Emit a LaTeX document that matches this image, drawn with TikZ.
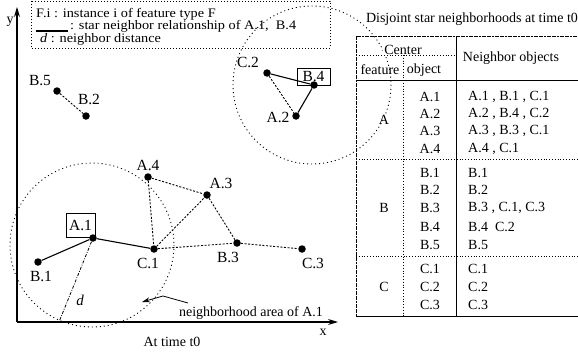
\documentclass[tikz,border=0pt]{standalone}
\usepackage{fontspec}
\setmainfont{Liberation Serif}
\usetikzlibrary{arrows.meta}
\begin{document}
\begin{tikzpicture}[x=1pt,y=-1pt,
  dot/.style={circle,fill=black,inner sep=0pt,minimum size=7.5pt},
  lbl/.style={inner sep=0pt,font=\fontsize{15.5}{17}\selectfont},
  boxlbl/.style={draw,line width=0.8pt,inner sep=0pt,font=\fontsize{15.5}{17}\selectfont},
  txt/.style={inner sep=0pt,font=\fontsize{14}{16}\selectfont},
  legtxt/.style={inner sep=0pt,font=\fontsize{13}{14}\selectfont},
  starln/.style={line width=1.1pt},
  nbr/.style={line width=0.9pt,dash pattern=on 2pt off 1.6pt},
  area/.style={line width=0.9pt,dash pattern=on 1pt off 3pt},
  legbox/.style={line width=0.8pt,dash pattern=on 1pt off 2pt},
  axis/.style={line width=1.1pt,-{Stealth[length=10pt,width=6pt]}},
  tbl/.style={line width=0.8pt},
  tbldot/.style={line width=0.8pt,dash pattern=on 1pt off 1.8pt},
  dline/.style={line width=0.8pt,dash pattern=on 3pt off 1.5pt on 0.8pt off 1.5pt}
]
\useasboundingbox (0,0) rectangle (578,356);

% legend
\draw[legbox] (31,1) rectangle (330,48);
\node[legtxt,anchor=west] (lg1) at (36,14) {\scalebox{1.1}[1]{F.i : instance i of feature type F}};
\coordinate (lgA) at (36,31);
\coordinate (lgB) at (68,31);
\draw[starln] (lgA) -- (lgB);
\node[legtxt,anchor=west] (lg2) at (70,26.5) {\scalebox{1.1}[1]{: star neighbor relationship of A.1,\ \ B.4}};
\node[legtxt,anchor=west] (lg3) at (40,39) {\scalebox{1.1}[1]{\textit{d} : neighbor distance}};

% axes
\coordinate (O) at (17,322);
\coordinate (ytip) at (17,7);
\coordinate (xtip) at (338,322);
\draw[axis] (O) -- (ytip);
\draw[axis] (O) -- (xtip);
\node[txt] (ylab) at (10,22) {y};
\node[txt] (xlab) at (323,332) {x};
\node[txt] (time) at (172,342) {At time t0};

% neighborhood circles
\draw[area] (92,245) circle (82);
\draw[area] (312,85) circle (79);

% points
\node[dot] (b5) at (57,91) {};
\node[dot] (b2) at (86,116) {};
\node[dot] (c2) at (267,73) {};
\node[dot] (b4) at (314,85) {};
\node[dot] (a2) at (296,116) {};
\node[dot] (a4) at (148,177) {};
\node[dot] (a3) at (207,195) {};
\node[dot] (a1) at (93,238) {};
\node[dot] (c1) at (154,249) {};
\node[dot] (b3) at (237,243) {};
\node[dot] (c3) at (302,249) {};
\node[dot] (b1) at (38,262) {};

% labels
\node[lbl] (b5l) at (40,81) {B.5};
\node[lbl] (b2l) at (89,99) {B.2};
\node[lbl] (c2l) at (248,62) {C.2};
\node[boxlbl,minimum width=33pt,minimum height=17pt] (b4l) at (313.5,77) {B.4};
\node[lbl] (a2l) at (278,117) {A.2};
\node[lbl] (a4l) at (148,165) {A.4};
\node[lbl] (a3l) at (221,183) {A.3};
\node[boxlbl,minimum width=29pt,minimum height=24pt] (a1l) at (80.5,225.5) {A.1};
\node[lbl] (c1l) at (148,263) {C.1};
\node[lbl] (b3l) at (228,257) {B.3};
\node[lbl] (c3l) at (313,263) {C.3};
\node[lbl] (b1l) at (41,276) {B.1};

% star relations
\draw[starln] (a1) -- (b1);
\draw[starln] (a1) -- (c1);
\draw[starln] (b4) -- (c2);
\draw[starln] (b4) -- (a2);

% other neighbor relations
\draw[nbr] (b5) -- (b2);
\draw[nbr] (c2) -- (a2);
\draw[nbr] (a4) -- (a3);
\draw[nbr] (a4) -- (c1);
\draw[nbr] (c1) -- (a3);
\draw[nbr] (a3) -- (b3);
\draw[nbr] (c1) -- (b3);
\draw[nbr] (b3) -- (c3);

% neighbor distance
\coordinate (dend) at (59,322);
\draw[dline] (a1) -- (dend);
\node[lbl,font=\fontsize{15}{17}\selectfont\itshape] (dl) at (80,300) {d};

% neighborhood area annotation
\node[txt] (areal) at (251,313) {neighborhood area of A.1};
\coordinate (arA) at (188,303);
\coordinate (arB) at (163,296);
\coordinate (arC) at (142,302);
\draw[line width=0.8pt,-{Stealth[length=8pt,width=5pt]}] (arA) -- (arB) -- (arC);

% table
\node[txt] (ttl) at (472,19) {Disjoint star neighborhoods at time t0};
\draw[tbl,dash pattern=on 2pt off 0.6pt] (356,316) -- (356,36) -- (578,36);
\draw[tbl] (356,80) -- (578,80);
\draw[tbl] (356,316) -- (578,316);
\draw[tbl] (456,36) -- (456,316);
\draw[tbldot] (356,55) -- (456,55);
\draw[tbldot] (403,55) -- (403,316);
\draw[tbldot] (356,159) -- (578,159);
\draw[tbldot] (356,256) -- (578,256);
\node[txt,fill=white,inner xsep=1pt,inner ysep=0.5pt] (hc) at (403,50) {Center};
\node[txt] (hf) at (380,70) {feature};
\node[txt] (ho) at (424,70) {object};
\node[txt] (hn) at (511,58) {Neighbor objects};

\node[txt] (fa) at (384,120) {A};
\node[txt] (fb) at (384,208) {B};
\node[txt] (fc) at (384,287) {C};

\node[txt] (oa1) at (430,97) {A.1};
\node[txt] (oa2) at (430,114) {A.2};
\node[txt] (oa3) at (430,131) {A.3};
\node[txt] (oa4) at (430,149) {A.4};
\node[txt] (ob1) at (430,173) {B.1};
\node[txt] (ob2) at (430,190) {B.2};
\node[txt] (ob3) at (430,208) {B.3};
\node[txt] (ob4) at (430,227) {B.4};
\node[txt] (ob5) at (430,245) {B.5};
\node[txt] (oc1) at (430,269) {C.1};
\node[txt] (oc2) at (430,287) {C.2};
\node[txt] (oc3) at (430,305) {C.3};

\node[txt,anchor=west] (na1) at (468,97) {A.1 , B.1 , C.1};
\node[txt,anchor=west] (na2) at (468,114) {A.2 , B.4 , C.2};
\node[txt,anchor=west] (na3) at (468,131) {A.3 , B.3 , C.1};
\node[txt,anchor=west] (na4) at (468,149) {A.4 , C.1};
\node[txt,anchor=west] (nb1) at (468,173) {B.1};
\node[txt,anchor=west] (nb2) at (468,190) {B.2};
\node[txt,anchor=west] (nb3) at (468,208) {B.3 , C.1, C.3};
\node[txt,anchor=west] (nb4) at (468,227) {B.4\ \ C.2};
\node[txt,anchor=west] (nb5) at (468,245) {B.5};
\node[txt,anchor=west] (nc1) at (468,269) {C.1};
\node[txt,anchor=west] (nc2) at (468,287) {C.2};
\node[txt,anchor=west] (nc3) at (468,305) {C.3};
\end{tikzpicture}
\end{document}
